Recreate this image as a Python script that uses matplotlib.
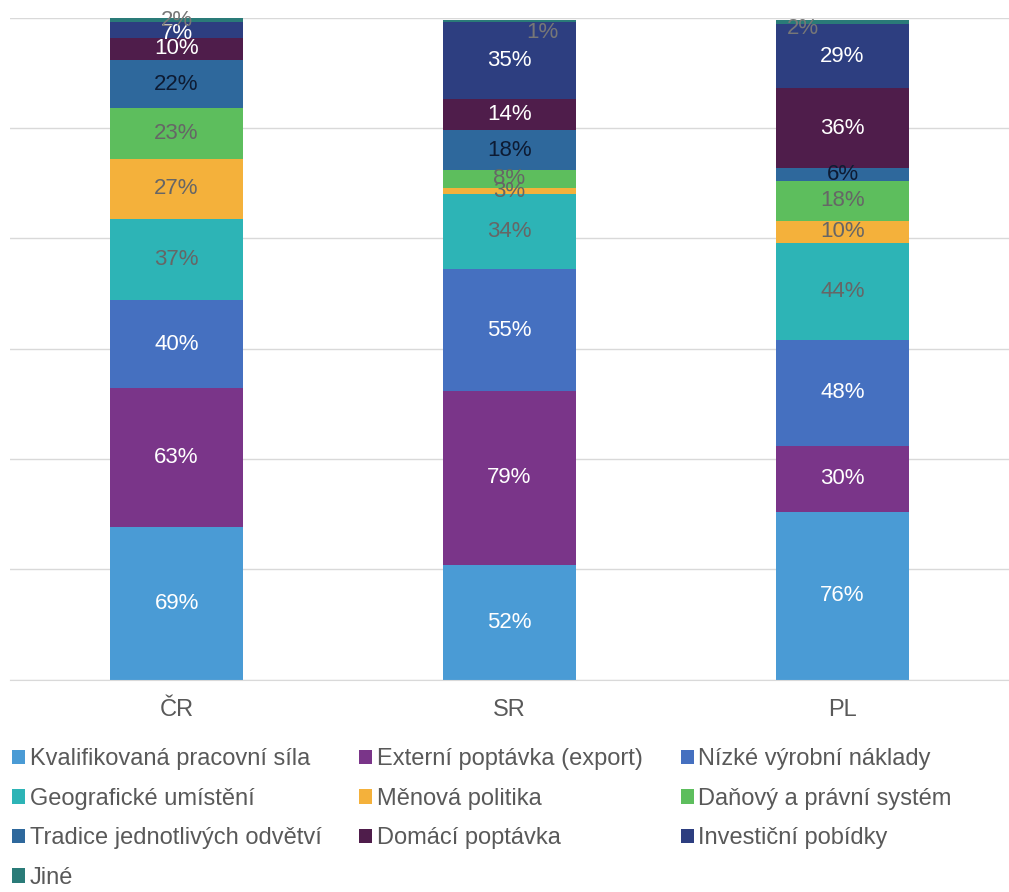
import matplotlib
matplotlib.use("Agg")
import matplotlib.pyplot as plt
from matplotlib.patches import Patch
import numpy as np

plt.rcParams['font.family'] = ['Liberation Sans', 'DejaVu Sans']

categories = ["ČR", "SR", "PL"]
series_names = [
    "Kvalifikovaná pracovní síla",
    "Externí poptávka (export)",
    "Nízké výrobní náklady",
    "Geografické umístění",
    "Měnová politika",
    "Daňový a právní systém",
    "Tradice jednotlivých odvětví",
    "Domácí poptávka",
    "Investiční pobídky",
    "Jiné",
]
kvalifikovana = [69, 52, 76]
externi = [63, 79, 30]
nizke = [40, 55, 48]
geograficke = [37, 34, 44]
menova = [27, 3, 10]
danovy = [23, 8, 18]
tradice = [22, 18, 6]
domaci = [10, 14, 36]
investicni = [7, 35, 29]
jine = [2, 1, 2]
values = [kvalifikovana, externi, nizke, geograficke, menova, danovy,
          tradice, domaci, investicni, jine]

colors = ["#4A9BD5", "#7A3589", "#4570C0", "#2DB4B6", "#F4B13B",
          "#5DBE5D", "#2E689C", "#4F1D4B", "#2D3E80", "#2A7B78"]
label_colors = ["white", "white", "white", "#666666", "#666666", "#666666",
                "#0D1B33", "white", "white", "#777777"]
# small label nudges (data units) for the tiny labels, as in the original
nudges = {(9, 1): (0.1, -5), (9, 2): (-0.12, -3), (8, 0): (0, -1.5)}

fig = plt.figure(figsize=(10.09, 8.92), dpi=100)
ax = fig.add_axes([0.01, 0.238, 0.99, 0.742])
x = np.arange(len(categories))
bottom = np.zeros(len(categories))
for i, (name, vals) in enumerate(zip(series_names, values)):
    vals = np.array(vals, dtype=float)
    ax.bar(x, vals, width=0.4, bottom=bottom, color=colors[i], label=name, zorder=2)
    for j, v in enumerate(vals):
        dx, dy = nudges.get((i, j), (0, 0))
        ax.text(x[j] + dx, bottom[j] + v / 2 + dy, f"{int(v)}%", ha="center", va="center",
                color=label_colors[i], fontsize=16, zorder=3)
    bottom += vals

ax.set_xlim(-0.5, 2.5)
ax.set_ylim(0, 300)
ax.set_yticks(np.arange(0, 301, 50))
ax.yaxis.grid(True, color="#D9D9D9", linewidth=1, zorder=0)
ax.set_yticklabels([])
ax.tick_params(axis="y", length=0)
ax.tick_params(axis="x", length=0, pad=14, labelsize=17, labelcolor="#595959")
ax.set_xticks(x)
ax.set_xticklabels(categories)
for s in ["top", "right", "left"]:
    ax.spines[s].set_visible(False)
ax.spines["bottom"].set_color("#D9D9D9")

handles = [Patch(facecolor=c, edgecolor="none") for c in colors]
order = [0, 3, 6, 9, 1, 4, 7, 2, 5, 8]
fig.legend([handles[k] for k in order], [series_names[k] for k in order],
           ncol=3, loc="upper left", bbox_to_anchor=(0.012, 0.161),
           frameon=False, fontsize=17, handlelength=0.55, handleheight=0.55,
           handletextpad=0.2, columnspacing=1.6, labelspacing=0.74,
           labelcolor="#595959", borderaxespad=0, borderpad=0)

fig.savefig("out.png", dpi=100)
